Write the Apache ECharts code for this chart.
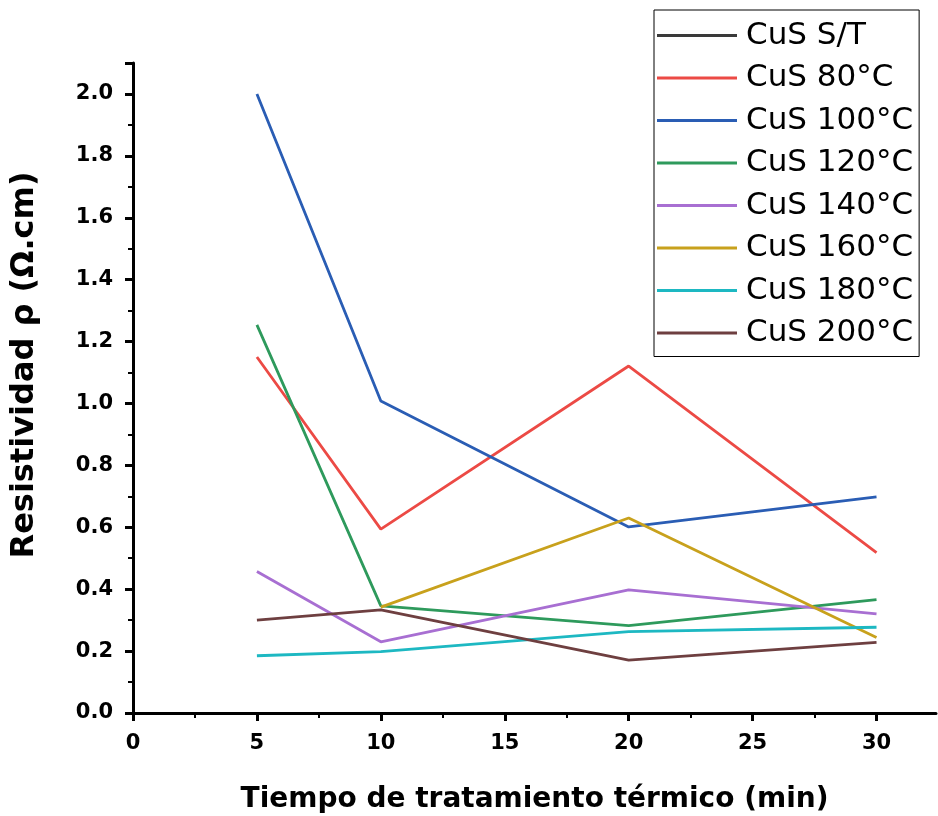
<!DOCTYPE html>
<html><head><meta charset="utf-8">
<script src="https://cdn.jsdelivr.net/npm/echarts@6/dist/echarts.min.js"></script>
<style>html,body{margin:0;padding:0;background:#fff}#c{width:938px;height:816px}</style>
</head><body><div id="c"></div>
<script>
const times = [5, 10, 20, 30];
const seriesNames = ['CuS S/T','CuS 80°C','CuS 100°C','CuS 120°C','CuS 140°C','CuS 160°C','CuS 180°C','CuS 200°C'];
const sT    = [null, null, null, null];
const s80   = [1.150, 0.594, 1.121, 0.518];
const s100  = [2.000, 1.008, 0.601, 0.698];
const s120  = [1.254, 0.346, 0.282, 0.366];
const s140  = [0.457, 0.230, 0.398, 0.320];
const s160  = [null, 0.342, 0.630, 0.244];
const s180  = [0.185, 0.198, 0.263, 0.277];
const s200  = [0.300, 0.333, 0.171, 0.228];
const xTicks = [0, 5, 10, 15, 20, 25, 30];
const colors = ['#3a3a3a','#ec4a45','#2a5db4','#2e9a5c','#a86fd2','#c8a11c','#1db8c2','#6e3f40'];
const allData = [sT, s80, s100, s120, s140, s160, s180, s200];

const chart = echarts.init(document.getElementById('c'));
const boldFont = 'DejaVu Sans, Liberation Sans, Arial, sans-serif';
const axisFont = {fontFamily:boldFont, fontWeight:'bold', fontSize:21, color:'#000'};
chart.setOption({
  animation:false,
  backgroundColor:'#fff',
  grid:{left:133, right:2, top:63, bottom:103, containLabel:false, outerBoundsMode:'none'},
  legend:{
    orient:'vertical', left:654, top:10,
    padding:[10,6,8,3],
    borderColor:'#000', borderWidth:1,
    itemWidth:80, itemHeight:31, itemGap:11.5,
    textStyle:{fontFamily:'DejaVu Sans, Liberation Sans, Arial, sans-serif', fontSize:31, color:'#000', padding:[0,0,0,4]},
    data: seriesNames.map(n => ({name:n, icon:'path://M0,0 L100,0 L100,4 L0,4 Z'}))
  },
  xAxis:{
    type:'value', min:0, max:32.4, interval:5,
    name:'Tiempo de tratamiento térmico (min)', nameLocation:'middle', nameGap:73,
    nameTextStyle:{fontFamily:boldFont, fontWeight:'bold', fontSize:28, color:'#000'},
    axisLine:{onZero:false, lineStyle:{color:'#000', width:3}},
    axisTick:{inside:false, length:8, lineStyle:{width:3, color:'#000'}, customValues: xTicks},
    minorTick:{show:true, splitNumber:2, length:5, lineStyle:{width:2, color:'#000'}},
    axisLabel:Object.assign({margin:20, customValues: xTicks, formatter: v => String(v)}, axisFont),
    splitLine:{show:false}
  },
  yAxis:{
    type:'value', min:0, max:2.1, interval:0.2,
    name:'Resistividad ρ (Ω.cm)', nameLocation:'middle', nameGap:92, nameRotate:90,
    nameTextStyle:{fontFamily:boldFont, fontWeight:'bold', fontSize:32, color:'#000', padding:[0,0,0,46]},
    axisLine:{show:true, lineStyle:{color:'#000', width:3}},
    axisTick:{show:true, length:8, lineStyle:{width:3, color:'#000'}},
    minorTick:{show:true, splitNumber:2, length:5, lineStyle:{width:2, color:'#000'}},
    axisLabel:Object.assign({margin:20, showMaxLabel:false, formatter: v => v.toFixed(1)}, axisFont),
    splitLine:{show:false}
  },
  series: seriesNames.map((n, i) => ({
    name:n, type:'line', symbol:'none', connectNulls:false,
    color: colors[i],
    lineStyle:{width:2.8, color:colors[i]},
    data: times.map((t, j) => [t, allData[i][j]])
  }))
});
</script></body></html>
